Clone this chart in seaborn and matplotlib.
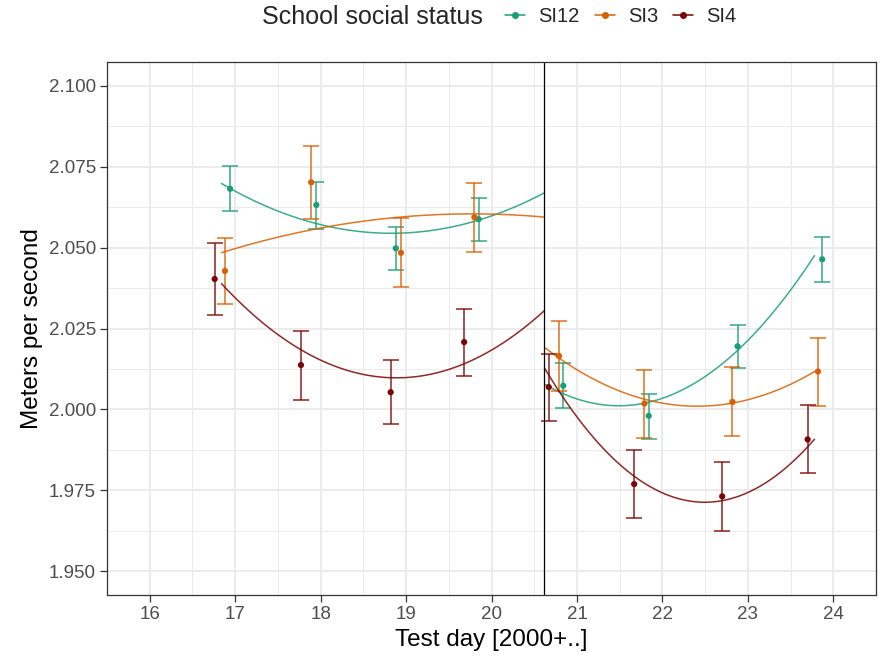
import numpy as np
import pandas as pd
import matplotlib
matplotlib.use("Agg")
import matplotlib.pyplot as plt
from matplotlib.lines import Line2D
from matplotlib.ticker import MultipleLocator
import seaborn as sns

# group means and error bar ends
days_si12 = [16.94, 17.95, 18.88, 19.85, 20.84, 21.84, 22.88, 23.87]
mean_si12 = [2.0682, 2.0632, 2.0498, 2.0588, 2.0073, 1.9980, 2.0195, 2.0464]
low_si12 = [2.0613, 2.0558, 2.0430, 2.0520, 2.0004, 1.9909, 2.0127, 2.0395]
high_si12 = [2.0752, 2.0704, 2.0565, 2.0654, 2.0142, 2.0049, 2.0262, 2.0533]

days_si3 = [16.88, 17.89, 18.94, 19.80, 20.79, 21.79, 22.82, 23.82]
mean_si3 = [2.0428, 2.0702, 2.0484, 2.0594, 2.0165, 2.0018, 2.0023, 2.0117]
low_si3 = [2.0326, 2.0589, 2.0378, 2.0486, 2.0056, 1.9912, 1.9918, 2.0011]
high_si3 = [2.0529, 2.0815, 2.0593, 2.0701, 2.0273, 2.0122, 2.0132, 2.0222]

days_si4 = [16.76, 17.77, 18.82, 19.68, 20.67, 21.67, 22.70, 23.70]
mean_si4 = [2.0403, 2.0137, 2.0053, 2.0208, 2.0069, 1.9769, 1.9731, 1.9907]
low_si4 = [2.0292, 2.0030, 1.9954, 2.0104, 1.9963, 1.9664, 1.9624, 1.9802]
high_si4 = [2.0513, 2.0243, 2.0153, 2.0311, 2.0172, 1.9873, 1.9838, 2.0013]

# points, each side of the cutoff
cutoff = 20.62
fit_x_left = [16.84, 18.0, 19.0, 20.0, 20.62]
fit_si12_left = [2.0699, 2.0570, 2.0545, 2.0601, 2.0668]
fit_si3_left = [2.0484, 2.0562, 2.0594, 2.0605, 2.0594]
fit_si4_left = [2.0386, 2.0163, 2.0083, 2.0194, 2.0302]

fit_x_right = [20.62, 21.5, 22.5, 23.0, 23.78]
fit_si12_right = [2.0078, 2.0011, 2.0101, 2.0214, 2.0475]
fit_si3_right = [2.0191, 2.0059, 2.0005, 2.0034, 2.0116]
fit_si4_right = [2.0128, 1.9830, 1.9711, 1.9745, 1.9907]

statuses = ["SI12", "SI3", "SI4"]
colors = {"SI12": "#1B9E77", "SI3": "#D95F02", "SI4": "#7A0403"}

groups = {
    "SI12": (days_si12, mean_si12, low_si12, high_si12, fit_si12_left, fit_si12_right),
    "SI3": (days_si3, mean_si3, low_si3, high_si3, fit_si3_left, fit_si3_right),
    "SI4": (days_si4, mean_si4, low_si4, high_si4, fit_si4_left, fit_si4_right),
}

rows = []
for s in statuses:
    d, m, lo, hi, _, _ = groups[s]
    for i in range(len(d)):
        rows.append({"day": d[i], "speed": m[i], "low": lo[i], "high": hi[i], "status": s})
df = pd.DataFrame(rows)

sns.set_theme(style="white")
plt.rcParams["font.family"] = ["Liberation Sans", "DejaVu Sans"]

fig = plt.figure(figsize=(8.83, 6.57), dpi=100)
ax = fig.add_axes([107 / 883, 1 - 595 / 657, 769 / 883, 533 / 657])

ax.set_axisbelow(True)
ax.grid(which="major", color="#EBEBEB", lw=1.4)
ax.grid(which="minor", color="#EBEBEB", lw=0.7)

for s in statuses:
    d, m, lo, hi, fl, fr = groups[s]
    sub = df[df.status == s]
    ax.errorbar(sub.day, sub.speed,
                yerr=[sub.speed - sub.low, sub.high - sub.speed],
                fmt="none", ecolor=colors[s], alpha=0.75,
                elinewidth=1.3, capsize=6, capthick=1.3)
    sns.regplot(x=fit_x_left, y=fl, order=2, scatter=False, ci=None,
                color=colors[s], line_kws=dict(lw=1.1, alpha=0.85), ax=ax)
    sns.regplot(x=fit_x_right, y=fr, order=2, scatter=False, ci=None,
                color=colors[s], line_kws=dict(lw=1.1, alpha=0.85), ax=ax)

sns.scatterplot(data=df, x="day", y="speed", hue="status", palette=colors,
                s=20, edgecolor="none", legend=False, ax=ax, zorder=5)

ax.axvline(cutoff, color="black", lw=0.9)

ax.set_xlim(15.5, 24.5)
ax.set_ylim(1.9426, 2.1074)
ax.xaxis.set_major_locator(MultipleLocator(1))
ax.xaxis.set_minor_locator(MultipleLocator(0.5))
ax.yaxis.set_major_locator(MultipleLocator(0.025))
ax.yaxis.set_minor_locator(MultipleLocator(0.0125))
ax.yaxis.set_major_formatter(matplotlib.ticker.FormatStrFormatter("%.3f"))

ax.tick_params(which="major", direction="out", length=5, width=0.9,
               color="#333333", labelcolor="#4D4D4D", labelsize=13.5,
               pad=3, bottom=True, left=True)
ax.tick_params(which="minor", length=0)
for sp in ax.spines.values():
    sp.set_color("#333333")
    sp.set_linewidth(0.9)

ax.set_xlabel("Test day [2000+..]", fontsize=17.5, color="black", labelpad=4)
ax.set_ylabel("Meters per second", fontsize=17.5, color="black", labelpad=4)

fig.text(262 / 883, 1 - 17 / 657, "School social status", fontsize=18,
         ha="left", va="center")
handles = [Line2D([0], [0], color=colors[s], lw=1.1, marker="o", markersize=4)
           for s in statuses]
fig.legend(handles, statuses, loc="center left", ncol=3, frameon=False,
           bbox_to_anchor=(487 / 883, 1 - 17 / 657), fontsize=14.5,
           handlelength=1.0, handletextpad=0.65, columnspacing=0.75,
           borderpad=0.4)

fig.savefig("out.png", dpi=100)
